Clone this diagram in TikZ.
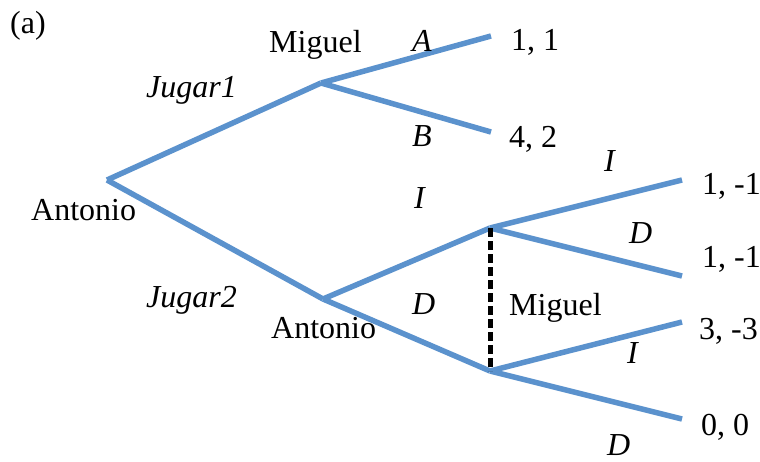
\documentclass[tikz,border=0pt]{standalone}
\usepackage{fontspec}
\setmainfont{Liberation Serif}
\definecolor{branchblue}{RGB}{91,146,205}
\begin{document}
\begin{tikzpicture}[x=1pt,y=-1pt,
  branch/.style={draw=branchblue,line width=5.5pt,line join=round},
  infoset/.style={draw=black,line width=5pt,dash pattern=on 9pt off 4pt},
  lbl/.style={anchor=base west,inner sep=0pt,font=\fontsize{32}{36}\selectfont},
  ilbl/.style={lbl,font=\fontsize{32}{36}\selectfont\itshape}]
\useasboundingbox (0,0) rectangle (760,461);
% decision nodes and leaves
\coordinate (r) at (107,180);
\coordinate (m1) at (321,83);
\coordinate (a2) at (323,299);
\coordinate (mu) at (490,228);
\coordinate (ml) at (490,371);
\coordinate (lA) at (491,36);
\coordinate (lB) at (491,132);
\coordinate (l1) at (682,180);
\coordinate (l2) at (682,276);
\coordinate (l3) at (682,322);
\coordinate (l4) at (682,419);
% branches
\draw[branch] (r) -- (m1);
\draw[branch] (r) -- (a2);
\draw[branch] (m1) -- (lA);
\draw[branch] (m1) -- (lB);
\draw[branch] (a2) -- (mu);
\draw[branch] (a2) -- (ml);
\draw[branch] (mu) -- (l1);
\draw[branch] (mu) -- (l2);
\draw[branch] (ml) -- (l3);
\draw[branch] (ml) -- (l4);
\draw[infoset] (mu) -- (ml);
% labels
\node[lbl] (ta) at (10,33) {(a)};
\node[lbl] (tant1) at (31,220) {Antonio};
\node[ilbl] (tj1) at (146,97) {Jugar1};
\node[ilbl] (tj2) at (146,307) {Jugar2};
\node[lbl] (tmig1) at (269,52) {Miguel};
\node[ilbl] (tA) at (412,51) {A};
\node[ilbl] (tB) at (412,146) {B};
\node[lbl] (p11) at (511,50) {1, 1};
\node[lbl] (p42) at (509,147) {4, 2};
\node[ilbl] (tI1) at (414,208) {I};
\node[ilbl] (tD1) at (412,314) {D};
\node[lbl] (tant2) at (271,338) {Antonio};
\node[lbl] (tmig2) at (509,315) {Miguel};
\node[ilbl] (tI2) at (604,171) {I};
\node[ilbl] (tD2) at (629,243) {D};
\node[ilbl] (tI3) at (627,363) {I};
\node[ilbl] (tD3) at (607,455) {D};
\node[lbl] (pa) at (702,194) {1, -1};
\node[lbl] (pb) at (702,267) {1, -1};
\node[lbl] (pc) at (699,339) {3, -3};
\node[lbl] (pd) at (701,435) {0, 0};
\end{tikzpicture}
\end{document}
